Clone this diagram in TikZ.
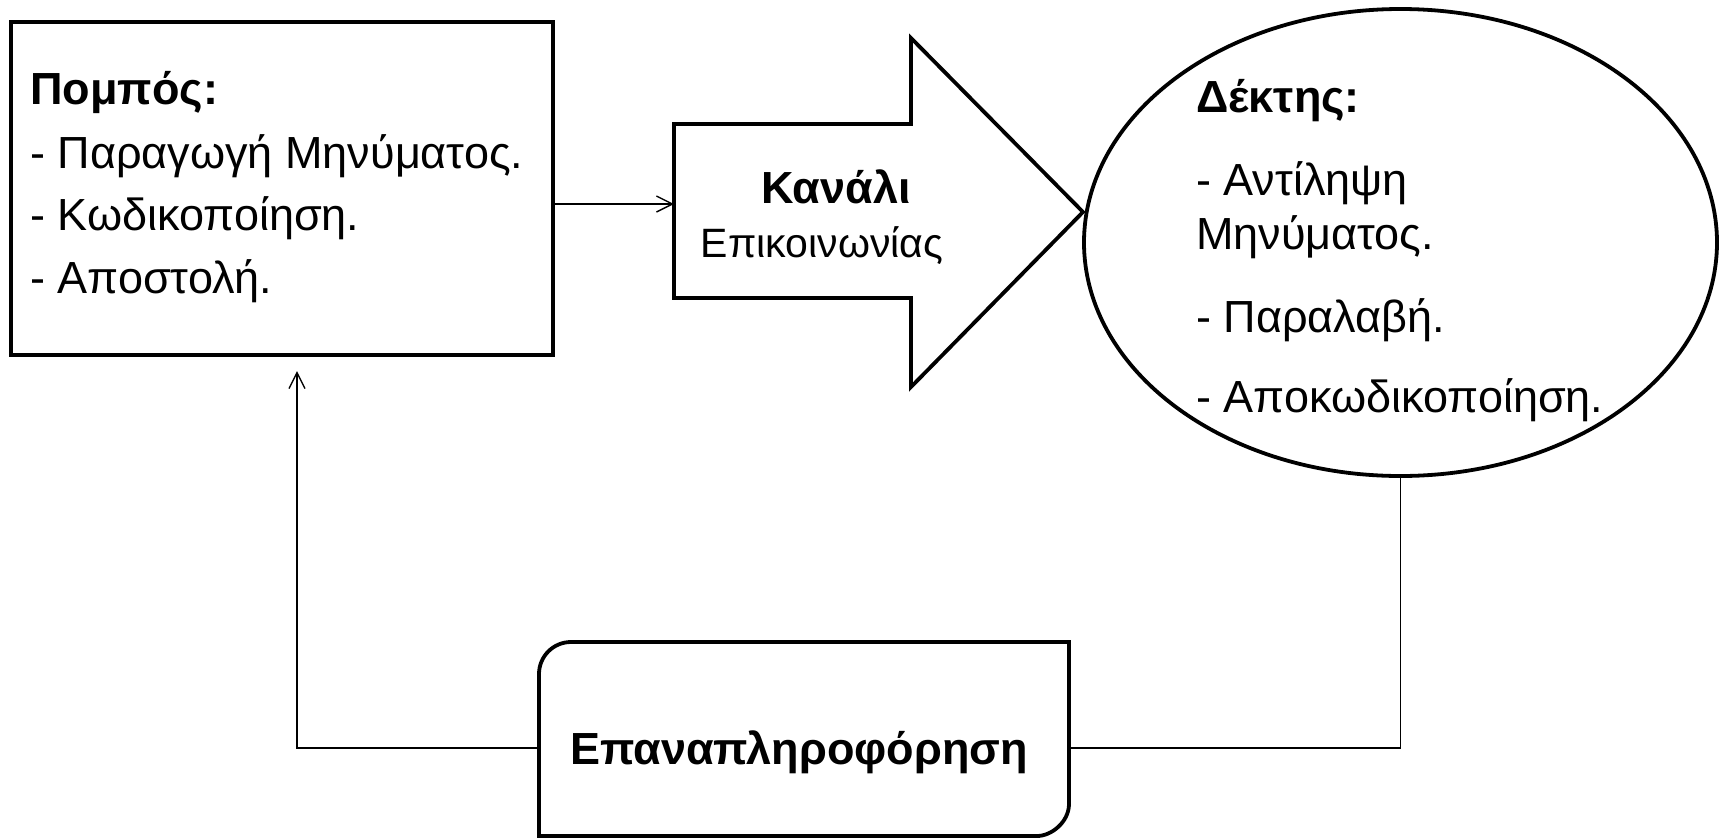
\documentclass[tikz,border=0pt]{standalone}
\usepackage{fontspec}
\setmainfont{Liberation Sans}
\usetikzlibrary{arrows.meta,shapes.geometric}
\begin{document}
\begin{tikzpicture}[x=1pt,y=-1pt,
  thickline/.style={line width=3.8pt},
  thickbox/.style={draw,line width=3.8pt,inner sep=0pt},
  lbl/.style={anchor=base west,inner sep=0pt,font=\fontsize{45}{54}\selectfont},
  ctr/.style={anchor=base,inner sep=0pt,font=\fontsize{45}{54}\selectfont},
  conn/.style={line width=1.4pt},
  tip/.style={-{Straight Barb[length=16pt,width=16pt,line width=1.4pt]}}]
\path[use as bounding box] (0,0) rectangle (1725,839);

% sender box
\node[thickbox, minimum width=542pt, minimum height=333pt] (snd) at (282,188.5) {};
\node[lbl] (s0) at (30,104) {\bfseries Πομπός:};
\node[lbl] (s1) at (30,168) {- Παραγωγή Μηνύματος.};
\node[lbl] (s2) at (30,230) {- Κωδικοποίηση.};
\node[lbl] (s3) at (30,293) {- Αποστολή.};

% channel block arrow
\draw[thickline] (674,124) -- (911,124) -- (911,38) -- (1083,212) -- (911,387) -- (911,298) -- (674,298) -- cycle;
\coordinate (chL) at (674,204);
\node[ctr] (c0) at (836,203) {\bfseries Κανάλι};
\node[ctr, font=\fontsize{41}{49}\selectfont] (c1) at (822,257) {Επικοινωνίας};

% receiver ellipse
\node[thickbox, ellipse, minimum width=633pt, minimum height=467pt] (rcv) at (1400.5,242.5) {};
\node[lbl] (r0) at (1196,112) {\bfseries Δέκτης:};
\node[lbl] (r1) at (1196,195) {- Αντίληψη};
\node[lbl] (r2) at (1196,249) {Μηνύματος.};
\node[lbl] (r3) at (1196,332) {- Παραλαβή.};
\node[lbl] (r4) at (1196,412) {- Αποκωδικοποίηση.};

% feedback box
\node[inner sep=0pt, minimum width=530pt, minimum height=194pt] (fb) at (804,739) {};
\draw[thickline] (539,836) -- (539,674) .. controls (539,656.3) and (553.3,642) .. (571,642)
  -- (1069,642) -- (1069,804) .. controls (1069,821.7) and (1051.7,836) .. (1037,836) -- cycle;
\node[ctr] (f0) at (799,764) {\bfseries Επαναπληροφόρηση};

% connectors
\coordinate (fbY) at (0,748);
\coordinate (up) at (297,371);
\draw[conn,tip] (snd.east |- chL) -- (chL);
\draw[conn,tip] (fb.west |- fbY) -| (up);
\draw[conn] (fb.east |- fbY) -| (rcv.south);
\end{tikzpicture}
\end{document}
